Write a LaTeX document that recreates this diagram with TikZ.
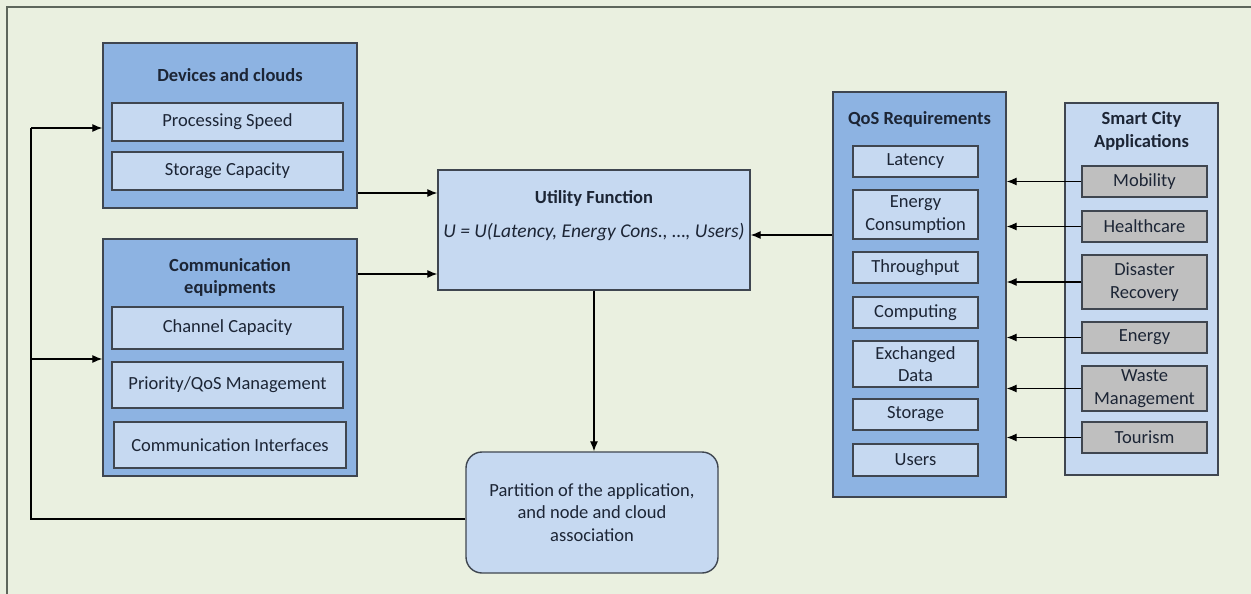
\documentclass[tikz,border=0pt]{standalone}
\usepackage{fontspec}
\setmainfont{Carlito}
\usetikzlibrary{arrows.meta}
\definecolor{bgc}{HTML}{EAF0E0}
\definecolor{outerblue}{HTML}{8DB3E2}
\definecolor{innerblue}{HTML}{C6D9F1}
\definecolor{grayfill}{HTML}{BFBFBF}
\definecolor{edgec}{HTML}{3F4650}
\definecolor{txt}{HTML}{1C2535}
\definecolor{framec}{HTML}{5E665C}
\tikzset{
  base/.style={draw=edgec, line width=1.4pt, inner sep=2pt, align=center, text=txt, font=\fontsize{18.5}{22.5}\selectfont},
  outerbox/.style={base, fill=outerblue},
  innerbox/.style={base, fill=innerblue},
  graybox/.style={base, fill=grayfill},
  titletext/.style={text=txt, align=center, font=\fontsize{18.5}{22.5}\selectfont\bfseries},
  arr/.style={draw=black, line width=1.1pt, -{Latex[length=10pt,width=8pt]}},
  plainline/.style={draw=black, line width=1.1pt}
}
\begin{document}
\begin{tikzpicture}[x=1pt,y=-1pt]
\useasboundingbox (0,0) rectangle (1251,594);
\fill[bgc] (0,0) rectangle (1251,594);
\draw[framec, line width=1.5pt] (7,594) -- (7,7) -- (1251,7);

% Devices and clouds
\node[outerbox, minimum width=254pt, minimum height=165pt] (dev) at (230,125.5) {};
\node[titletext] (devt) at (230,75) {Devices and clouds};
\node[innerbox, minimum width=231pt, minimum height=38pt] (ps) at (227.5,122) {Processing Speed};
\node[innerbox, minimum width=231pt, minimum height=38pt] (sc) at (227.5,171) {Storage Capacity};

% Communication equipments
\node[outerbox, minimum width=254pt, minimum height=237pt] (com) at (230,357.5) {};
\node[titletext] (comt) at (230,277.5) {Communication\\equipments};
\node[innerbox, minimum width=231pt, minimum height=42pt] (cc) at (227.5,328) {Channel Capacity};
\node[innerbox, minimum width=231pt, minimum height=46pt] (pq) at (227.5,385) {Priority/QoS Management};
\node[innerbox, minimum width=232pt, minimum height=46pt] (ci) at (230,445) {Communication Interfaces};

% Utility function
\node[innerbox, minimum width=312pt, minimum height=120pt] (util) at (594,230) {};
\node[titletext] (utilt) at (594,198) {Utility Function};
\node[text=txt, font=\fontsize{19.5}{22.5}\selectfont\itshape] (utilf) at (594,232) {U = U(Latency, Energy Cons., \dots, Users)};

% Partition
\node[innerbox, rounded corners=16pt, minimum width=252pt, minimum height=121pt] (part) at (592,512.5) {Partition of the application,\\and node and cloud\\association};

% QoS requirements
\node[outerbox, minimum width=173pt, minimum height=405pt] (qos) at (919.5,294.5) {};
\node[titletext] (qost) at (919.5,119) {QoS Requirements};
\node[innerbox, minimum width=125pt, minimum height=31pt] (lat) at (915.5,161.5) {Latency};
\node[innerbox, minimum width=125pt, minimum height=49pt] (enc) at (915.5,214.5) {Energy\\Consumption};
\node[innerbox, minimum width=125pt, minimum height=31pt] (thr) at (915.5,267.5) {Throughput};
\node[innerbox, minimum width=125pt, minimum height=31pt] (cmp) at (915.5,312.5) {Computing};
\node[innerbox, minimum width=125pt, minimum height=46pt] (exd) at (915.5,364) {Exchanged\\Data};
\node[innerbox, minimum width=125pt, minimum height=31pt] (sto) at (915.5,414.5) {Storage};
\node[innerbox, minimum width=125pt, minimum height=32pt] (usr) at (915.5,460) {Users};

% Smart city applications
\node[innerbox, minimum width=153pt, minimum height=372pt] (sca) at (1141.5,289) {};
\node[titletext] (scat) at (1141.5,131) {Smart City\\Applications};
\node[graybox, minimum width=125pt, minimum height=31pt] (mob) at (1144.5,181.5) {Mobility};
\node[graybox, minimum width=125pt, minimum height=31pt] (hea) at (1144.5,226.5) {Healthcare};
\node[graybox, minimum width=125pt, minimum height=54pt] (dis) at (1144.5,282) {Disaster\\Recovery};
\node[graybox, minimum width=125pt, minimum height=31pt] (ene) at (1144.5,337.5) {Energy};
\node[graybox, minimum width=125pt, minimum height=45pt] (was) at (1144.5,388.5) {Waste\\Management};
\node[graybox, minimum width=125pt, minimum height=31pt] (tou) at (1144.5,437.5) {Tourism};

% arrows from applications to QoS
\foreach \n in {mob,hea,dis,ene,was,tou}
  \draw[arr] (\n.west) -- (\n.west -| qos.east);

% inputs to utility
\coordinate (y1) at (0,193);
\coordinate (y2) at (0,274);
\coordinate (y3) at (0,235);
\draw[arr] (dev.east |- y1) -- (util.west |- y1);
\draw[arr] (com.east |- y2) -- (util.west |- y2);
\draw[arr] (qos.west |- y3) -- (util.east |- y3);

% utility to partition
\draw[arr] (util.south) -- (util.south |- part.north);

% feedback
\coordinate (fb) at (31,519);
\coordinate (fbt) at (31,128);
\coordinate (fbm) at (31,359);
\draw[plainline] (part.west |- fb) -- (fb) -- (fbt);
\draw[arr] (fbt) -- (dev.west |- fbt);
\draw[arr] (fbm) -- (com.west |- fbm);
\end{tikzpicture}
\end{document}
